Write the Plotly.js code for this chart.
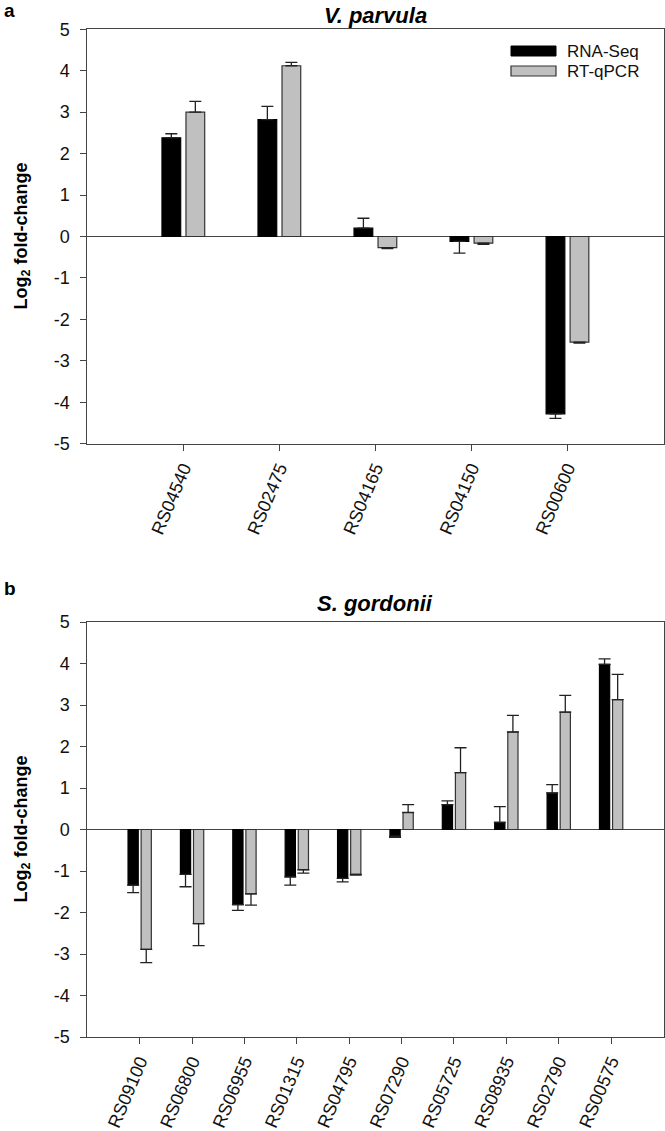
<!DOCTYPE html>
<html>
<head>
<meta charset="utf-8">
<script src="https://cdn.plot.ly/plotly-3.0.1.min.js"></script>
<style>html,body{margin:0;padding:0;background:#fff;}#chart{width:665px;height:1131px;}</style>
</head>
<body>
<div id="chart"></div>
<script>
// ---------- DATA ----------
const seriesNames = ['RNA-Seq', 'RT-qPCR'];

const genesA = ['RS04540', 'RS02475', 'RS04165', 'RS04150', 'RS00600'];
const rnaA     = [2.38, 2.82, 0.20, -0.12, -4.28];
const rnaAErr  = [0.10, 0.32, 0.24, 0.28, 0.11];
const qpcrA    = [3.00, 4.12, -0.27, -0.16, -2.55];
const qpcrAErr = [0.26, 0.08, 0.02, 0.03, 0.02];

const genesB = ['RS09100', 'RS06800', 'RS06955', 'RS01315', 'RS04795', 'RS07290', 'RS05725', 'RS08935', 'RS02790', 'RS00575'];
const rnaB     = [-1.34, -1.08, -1.81, -1.14, -1.18, -0.16, 0.60, 0.17, 0.88, 3.98];
const rnaBErr  = [0.18, 0.30, 0.14, 0.20, 0.08, 0.03, 0.09, 0.38, 0.20, 0.13];
const qpcrB    = [-2.89, -2.27, -1.55, -0.97, -1.08, 0.41, 1.37, 2.35, 2.83, 3.13];
const qpcrBErr = [0.32, 0.53, 0.27, 0.08, 0.02, 0.19, 0.60, 0.40, 0.40, 0.61];

const yTickVals = [-5, -4, -3, -2, -1, 0, 1, 2, 3, 4, 5];
const yTickText = ['-5', '-4', '-3', '-2', '-1', '0', '1', '2', '3', '4', '5'];

const panelTitles = ['V. parvula', 'S. gordonii'];
const panelLetters = ['a', 'b'];
const yTitle = 'Log<sub>2</sub> fold-change';

// ---------- LAYOUT HELPERS ----------
const W = 665, H = 1131;
const px = p => p / W;
const py = p => 1 - p / H;
const FONT = 'Liberation Sans, Arial, sans-serif';
const AXC = '#444';

function errs(vals, e) {
  return {
    type: 'data', symmetric: false,
    array: vals.map((v, i) => v >= 0 ? e[i] : 0),
    arrayminus: vals.map((v, i) => v < 0 ? e[i] : 0),
    color: '#222', thickness: 1.3, width: 6
  };
}
function barTrace(cats, vals, e, name, fill, lineCol, xa, ya) {
  return {
    type: 'bar', x: cats, y: vals, name: name, xaxis: xa, yaxis: ya,
    marker: {color: fill, line: {color: lineCol, width: 1.2}},
    error_y: errs(vals, e), showlegend: false, hoverinfo: 'x+y'
  };
}

const data = [
  barTrace(genesA, rnaA, rnaAErr, seriesNames[0], '#000000', '#000000', 'x', 'y'),
  barTrace(genesA, qpcrA, qpcrAErr, seriesNames[1], '#c0c0c0', '#333333', 'x', 'y'),
  barTrace(genesB, rnaB, rnaBErr, seriesNames[0], '#000000', '#000000', 'x2', 'y2'),
  barTrace(genesB, qpcrB, qpcrBErr, seriesNames[1], '#c0c0c0', '#333333', 'x2', 'y2')
];

function xAxis(cats, anchor) {
  return {
    type: 'category', range: [-1, cats.length], autorange: false,
    domain: [px(87.3), px(663.5)], anchor: anchor,
    showline: true, mirror: true, linecolor: AXC, linewidth: 1,
    ticks: 'outside', ticklen: 6, tickcolor: AXC, tickwidth: 1,
    tickangle: -67, tickfont: {family: FONT, size: 18, color: '#111'},
    showgrid: false, zeroline: false, fixedrange: true
  };
}
function yAxis(top, bottom, anchor) {
  return {
    range: [-5, 5], autorange: false, domain: [py(bottom), py(top)], anchor: anchor,
    tickmode: 'array', tickvals: yTickVals, ticktext: yTickText,
    showline: true, mirror: true, linecolor: AXC, linewidth: 1,
    ticks: 'outside', ticklen: 6, tickcolor: AXC, tickwidth: 1,
    ticklabelstandoff: 7,
    tickfont: {family: FONT, size: 18, color: '#111'},
    showgrid: false, zeroline: true, zerolinecolor: AXC, zerolinewidth: 1, fixedrange: true
  };
}

const annotations = [
  {text: panelLetters[0], x: px(2), y: py(10), xanchor: 'left', yanchor: 'middle'},
  {text: panelLetters[1], x: px(2), y: py(588), xanchor: 'left', yanchor: 'middle'}
].map(a => Object.assign(a, {xref: 'paper', yref: 'paper', showarrow: false,
   font: {family: FONT, size: 19, color: '#000', weight: 'bold'}}));

[[panelTitles[0], 15], [panelTitles[1], 603]].forEach(([t, y]) => annotations.push({
  text: t, x: px(375), y: py(y), xref: 'paper', yref: 'paper', showarrow: false,
  xanchor: 'center', yanchor: 'middle',
  font: {family: FONT, size: 22, color: '#000', weight: 'bold', style: 'italic'}
}));
[236.5, 829.5].forEach(y => annotations.push({
  text: yTitle, x: px(22), y: py(y), xref: 'paper', yref: 'paper', showarrow: false,
  xanchor: 'center', yanchor: 'middle', textangle: -90,
  font: {family: FONT, size: 18, color: '#000', weight: 'bold'}
}));
// legend labels
[[seriesNames[0], 51], [seriesNames[1], 71]].forEach(([t, y]) => annotations.push({
  text: t, x: px(565), y: py(y), xref: 'paper', yref: 'paper', showarrow: false,
  xanchor: 'left', yanchor: 'middle', font: {family: FONT, size: 17, color: '#111'}
}));

const shapes = [
  {type: 'rect', xref: 'paper', yref: 'paper', x0: px(511), x1: px(556), y0: py(56), y1: py(46),
   fillcolor: '#000000', line: {color: '#000000', width: 1}},
  {type: 'rect', xref: 'paper', yref: 'paper', x0: px(511), x1: px(556), y0: py(76), y1: py(66),
   fillcolor: '#c0c0c0', line: {color: '#333333', width: 1.2}}
];

const layout = {
  width: W, height: H,
  margin: {l: 0, r: 0, t: 0, b: 0},
  paper_bgcolor: '#ffffff', plot_bgcolor: '#ffffff',
  barmode: 'group', bargap: 0.5, bargroupgap: 0.22,
  showlegend: false,
  xaxis: xAxis(genesA, 'y'),
  yaxis: yAxis(29.3, 443.7, 'x'),
  xaxis2: xAxis(genesB, 'y2'),
  yaxis2: yAxis(622, 1037, 'x2'),
  annotations: annotations,
  shapes: shapes,
  font: {family: FONT}
};

Plotly.newPlot('chart', data, layout, {displayModeBar: false, staticPlot: true});
</script>
</body>
</html>
